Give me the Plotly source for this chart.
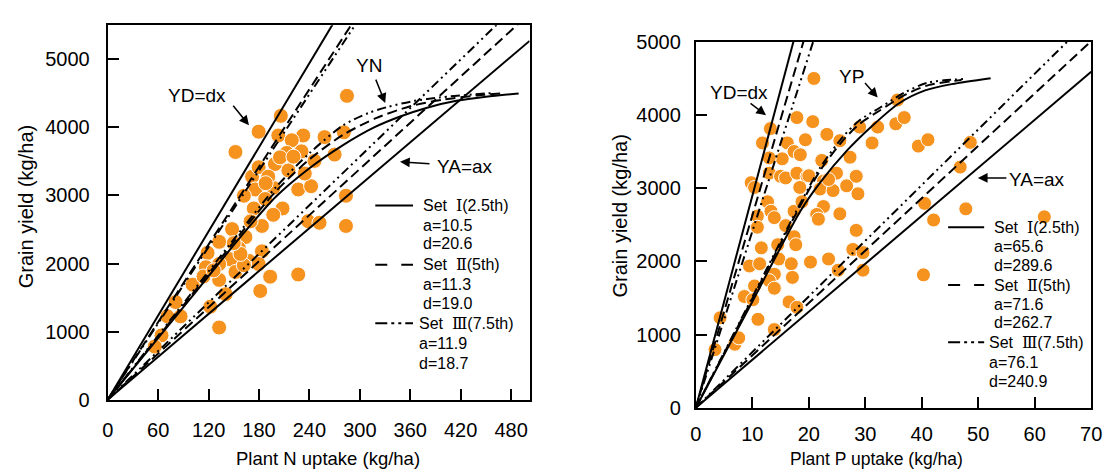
import plotly.graph_objects as go

W, H = 1115, 476
FONT = "Liberation Sans, Arial, Helvetica, sans-serif"
ORANGE = "#F6921E"

# ---------------- Left panel: N uptake vs grain yield ----------------
n_uptake = [284.7, 206, 179.6, 152, 232.6, 203, 219, 258, 281, 213, 230.6, 246, 270, 199,
            171.8, 226.7, 242, 175.7, 162, 197, 187.4, 208, 173.8, 197, 183.5, 148, 163.9,
            132.6, 156, 183.5, 118.8, 146, 167.9, 132.6, 179.6, 116.8, 132.6, 152, 193.3,
            226.7, 101, 181.5, 140.4, 80.8, 86.7, 71, 132.6, 64, 56, 283.5, 283.5, 238.5,
            252, 179.6, 191, 215, 234.5, 122, 114, 162, 158, 205, 221, 188, 150, 126, 170]
n_yield = [4464, 4170, 3937, 3639, 3881, 3881, 3811, 3857, 3928, 3625, 3648, 3508, 3601, 3462,
           3276, 3088, 3136, 3088, 2996, 3112, 2948, 2809, 2809, 2716, 2552, 2506, 2389,
           2319, 2226, 2179, 2156, 2063, 2040, 1993, 1993, 1946, 1760, 1877, 1807,
           1839, 1690, 1597, 1550, 1434, 1224, 1224, 1060, 944, 780, 2996, 2552, 2622,
           2599, 3415, 3276, 3368, 3322, 1366, 1810, 1974, 2140, 3560, 3570, 3180, 2300, 1900, 2620]

n_sets = ["Ⅰ", "Ⅱ", "Ⅲ"]
n_pct = ["2.5th", "5th", "7.5th"]
n_a = [10.5, 11.3, 11.9]
n_d = [20.6, 19.0, 18.7]

# YN balanced-uptake curves
yn_x = [
    [0, 100, 160, 200, 240, 280, 317, 348, 380, 415, 450, 489],
    [0, 100, 160, 200, 240, 280, 320, 360, 400, 440, 470],
    [0, 100, 160, 200, 240, 280, 310, 333, 365, 395, 430, 458],
]
yn_y = [
    [0, 1510, 2420, 2980, 3400, 3740, 4000, 4160, 4290, 4390, 4450, 4497],
    [0, 1540, 2470, 3060, 3530, 3890, 4140, 4310, 4410, 4470, 4500],
    [0, 1570, 2510, 3120, 3620, 4030, 4210, 4300, 4390, 4440, 4480, 4505],
]

# ---------------- Right panel: P uptake vs grain yield ----------------
p_uptake = [20.9, 17.9, 20.7, 13.2, 11.8, 16.2, 19.4, 23.2, 25.5, 17.4, 18.5, 15.3, 13.0, 22.3,
            27.3, 29.0, 32.2, 31.2, 35.4, 36.9, 35.7, 39.4, 41.1, 9.8, 10.4, 13.0, 15.0, 15.9,
            17.9, 19.7, 18.4, 22.6, 24.9, 22.0, 24.3, 26.7, 28.4, 28.7, 12.7, 13.3, 10.9, 13.9,
            10.9, 15.9, 17.4, 18.8, 22.6, 21.4, 21.7, 25.5, 14.5, 11.6, 17.4, 17.7, 28.4, 27.8,
            29.6, 29.6, 20.3, 23.5, 25.2, 9.5, 11.3, 14.7, 13.9, 16.9, 17.1, 13.0, 10.4, 13.9,
            8.6, 10.1, 16.5, 17.9, 11.0, 13.9, 4.3, 3.4, 6.9, 7.6, 40.3, 40.5, 42.1, 47.8, 46.8,
            48.6, 61.7, 23.5, 20.0]
p_yield = [4502, 3967, 3911, 3816, 3620, 3620, 3664, 3737, 3651, 3503, 3459, 3403, 3416, 3381,
           3425, 3837, 3837, 3620, 3881, 3967, 4207, 3577, 3664, 3077, 3012, 3207, 3164, 3142,
           3207, 3164, 3012, 3099, 3207, 2990, 2969, 3034, 3164, 2925, 2816, 2686, 2621, 2599,
           2468, 2490, 2686, 2816, 2751, 2643, 2578, 2651, 2229, 2186, 2338, 2229, 2425, 2164,
           2121, 1881, 1991, 2034, 1881, 1938, 1969, 2034, 1825, 1969, 1782, 1738, 1665, 1634,
           1521, 1477, 1447, 1373, 1209, 1069, 1230, 795, 869, 956, 1817, 2794, 2567, 2719, 3290,
           3628, 2610, 3120, 3172]

p_a = [65.6, 71.6, 76.1]
p_d = [289.6, 262.7, 240.9]

yp_x = [
    [0, 10, 18.5, 22, 26.7, 31.3, 36, 40.6, 45.3, 52.2],
    [0, 10, 18, 22, 26, 29, 32.5, 37.1, 41.2, 47],
    [0, 10, 18, 22, 26, 29, 32.5, 37.1, 41.2, 47.7],
]
yp_y = [
    [0, 1450, 2686, 3077, 3511, 3859, 4163, 4338, 4424, 4505],
    [0, 1490, 2690, 3240, 3650, 3880, 4060, 4280, 4410, 4480],
    [0, 1510, 2720, 3280, 3700, 3930, 4098, 4316, 4446, 4495],
]

n_xticks = list(range(0, 481, 60))
p_xticks = list(range(0, 71, 10))
y_ticks = list(range(0, 5001, 1000))

DASHES = ["solid", "10px,5px", "9px,4px,2px,4px,2px,4px"]
LEG_DASHES = ["solid", "12px,14px", "12px,4px,3px,4px,3px,4px"]

# ---------------- layout geometry (pixels) ----------------
L_x0, L_x1, L_y0, L_y1 = 103.3, 531.7, 407.5, 15.0
R_x0, R_x1, R_y0, R_y1 = 700.5, 1102.0, 416.0, 32.5
N_XMAX, N_YMAX = 502, 5500
P_XMAX, P_YMAX = 70, 5000


def px(xp):
    return xp / W


def py(yp):
    return 1 - yp / H


fig = go.Figure()

fig.add_trace(go.Scatter(x=n_uptake, y=n_yield, mode="markers",
                         marker=dict(size=15, color=ORANGE, line=dict(color="white", width=1)),
                         showlegend=False, xaxis="x", yaxis="y", cliponaxis=False))
fig.add_trace(go.Scatter(x=p_uptake, y=p_yield, mode="markers",
                         marker=dict(size=14, color=ORANGE, line=dict(color="white", width=1)),
                         showlegend=False, xaxis="x2", yaxis="y2", cliponaxis=False))

line_w = 2.0
for i in range(3):
    dash = DASHES[i]
    # left panel lines
    for slope in (n_a[i], n_d[i]):
        fig.add_trace(go.Scatter(x=[0, N_XMAX], y=[0, slope * N_XMAX], mode="lines",
                                 line=dict(color="black", width=line_w, dash=dash),
                                 showlegend=False, xaxis="x", yaxis="y"))
    fig.add_trace(go.Scatter(x=yn_x[i], y=yn_y[i], mode="lines",
                             line=dict(color="black", width=line_w, dash=dash,
                                       shape="spline", smoothing=0.8),
                             showlegend=False, xaxis="x", yaxis="y"))
    # right panel lines
    for slope in (p_a[i], p_d[i]):
        fig.add_trace(go.Scatter(x=[0, P_XMAX], y=[0, slope * P_XMAX], mode="lines",
                                 line=dict(color="black", width=line_w, dash=dash),
                                 showlegend=False, xaxis="x2", yaxis="y2"))
    fig.add_trace(go.Scatter(x=yp_x[i], y=yp_y[i], mode="lines",
                             line=dict(color="black", width=line_w, dash=dash,
                                       shape="spline", smoothing=0.8),
                             showlegend=False, xaxis="x2", yaxis="y2"))

axis_common = dict(showline=True, mirror=True, linewidth=2, linecolor="black",
                   ticks="inside", tickwidth=2, tickcolor="black", ticklen=11,
                   showgrid=False, zeroline=False,
                   tickfont=dict(family=FONT, size=20, color="black"))

fig.update_layout(
    width=W, height=H,
    margin=dict(l=0, r=0, t=0, b=0),
    paper_bgcolor="white", plot_bgcolor="white",
    font=dict(family=FONT, color="black"),
    xaxis=dict(domain=[px(L_x0), px(L_x1)], range=[0, N_XMAX], tickvals=n_xticks,
               anchor="y", ticklabelstandoff=11, **axis_common),
    yaxis=dict(domain=[py(L_y0), py(L_y1)], range=[0, N_YMAX], tickvals=y_ticks,
               anchor="x", ticklabelstandoff=12, **axis_common),
    xaxis2=dict(domain=[px(R_x0), px(R_x1)], range=[0, P_XMAX], tickvals=p_xticks,
                anchor="y2", ticklabelstandoff=7, **axis_common),
    yaxis2=dict(domain=[py(R_y0), py(R_y1)], range=[0, P_YMAX], tickvals=y_ticks,
                anchor="x2", ticklabelstandoff=9, **axis_common),
)

ann = []
shapes = []

# axis titles
ann.append(dict(text="Plant N uptake (kg/ha)", x=px(326.5), y=py(469), xref="paper", yref="paper",
                showarrow=False, font=dict(size=18.5, family=FONT), xanchor="center", yanchor="middle"))
ann.append(dict(text="Plant P uptake (kg/ha)", x=px(884), y=py(470), xref="paper", yref="paper",
                showarrow=False, font=dict(size=17.5, family=FONT), xanchor="center", yanchor="middle"))
ann.append(dict(text="Grain yield (kg/ha)", x=px(20), y=py(205), xref="paper", yref="paper",
                textangle=-90, showarrow=False, font=dict(size=20, family=FONT),
                xanchor="center", yanchor="middle"))
ann.append(dict(text="Grain yield (kg/ha)", x=px(624), y=py(215), xref="paper", yref="paper",
                textangle=-90, showarrow=False, font=dict(size=20, family=FONT),
                xanchor="center", yanchor="middle"))

LBL = dict(size=19, family=FONT)
ARW = dict(showarrow=True, arrowhead=2, arrowsize=1.3, arrowwidth=1.5, arrowcolor="black", text="")

# left panel labels
ann.append(dict(text="YD=dx", x=(194 - L_x0) / 0.853, y=(L_y0 - 88) / 0.0715, xref="x", yref="y",
                showarrow=False, font=LBL))
ann.append(dict(x=168.1, y=4031, xref="x", yref="y", ax=-17, ay=-21, **ARW))
ann.append(dict(text="YN", x=310.7, y=4906, xref="x", yref="y", showarrow=False, font=LBL))
ann.append(dict(x=330.2, y=4357, xref="x", yref="y", ax=-10, ay=-25, **ARW))
ann.append(dict(text="YA=ax", x=425, y=3427, xref="x", yref="y", showarrow=False, font=LBL))
ann.append(dict(x=347.8, y=3494, xref="x", yref="y", ax=31, ay=2, **ARW))

# right panel labels
ann.append(dict(text="YD=dx", x=7.63, y=4316, xref="x2", yref="y2", showarrow=False, font=LBL))
ann.append(dict(x=12.43, y=3999, xref="x2", yref="y2", ax=-17, ay=-13, **ARW))
ann.append(dict(text="YP", x=27.6, y=4533, xref="x2", yref="y2", showarrow=False, font=LBL))
ann.append(dict(x=32.2, y=4241, xref="x2", yref="y2", ax=-14, ay=-16, **ARW))
ann.append(dict(text="YA=ax", x=60.4, y=3120, xref="x2", yref="y2", showarrow=False, font=LBL))
ann.append(dict(x=49.93, y=3142, xref="x2", yref="y2", ax=30, ay=0, **ARW))

# custom legends
ROMAN = "<span style=\"font-family:'DejaVu Serif',serif\">%s</span>"
LEGF = dict(size=16, family=FONT)


def add_legend(line_x0, line_x1, text_x, text_x3, ys, a_vals, d_vals):
    for i in range(3):
        y_set, y_a, y_d = ys[3 * i], ys[3 * i + 1], ys[3 * i + 2]
        tx = text_x3 if i == 2 else text_x
        shapes.append(dict(type="line", xref="paper", yref="paper",
                           x0=px(line_x0), x1=px(line_x1), y0=py(y_set), y1=py(y_set),
                           line=dict(color="black", width=2, dash=LEG_DASHES[i])))
        label = "Set\u00a0\u00a0" + ROMAN % n_sets[i] + "(" + n_pct[i] + ")"
        for t, yy in ((label, y_set), ("a=%.1f" % a_vals[i], y_a), ("d=%.1f" % d_vals[i], y_d)):
            ann.append(dict(text=t, x=px(tx), y=py(yy), xref="paper", yref="paper",
                            xanchor="left", yanchor="middle", showarrow=False, font=LEGF))


add_legend(375, 413.3, 421.5, 417.5,
           [204, 225, 244, 266, 286.7, 306.7, 327.3, 348.3, 369.3], n_a, n_d)
add_legend(956.7, 993.3, 1001.5, 996.5,
           [226.7, 246.7, 266.7, 287.3, 307.3, 326.7, 347.3, 368.3, 388.3], p_a, p_d)

fig.update_layout(annotations=ann, shapes=shapes)
fig.write_html("out.html")
